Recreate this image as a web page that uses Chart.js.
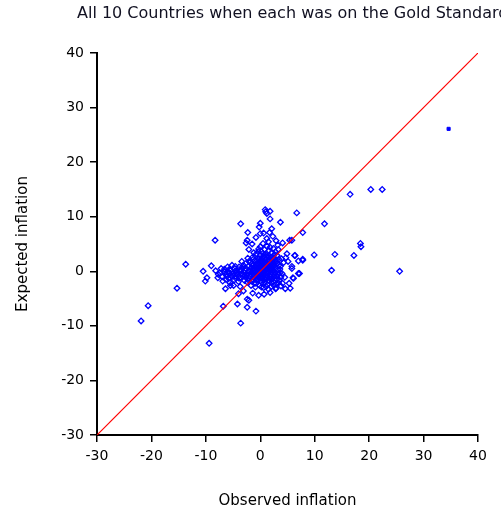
<!DOCTYPE html>
<html>
<head>
<meta charset="utf-8">
<script src="https://cdn.jsdelivr.net/npm/chart.js@4.4.1/dist/chart.umd.min.js"></script>
<style>
  body { margin: 0; background: #fff; }
  canvas { display: block; }
</style>
</head>
<body>
<canvas id="chart" width="501" height="512"></canvas>
<script>
// observed vs expected inflation as [observed, expected]
const core = [
  [-1.8,-0.5],[-1.5,0.3],[-1.2,-1.1],[-0.9,0.8],[-0.6,-0.2],[-0.3,1.2],[0.0,0.1],[0.2,-0.8],[0.5,0.6],[0.8,1.5],
  [1.1,-0.3],[1.4,0.9],[1.7,2.1],[2.0,0.4],[2.3,1.2],[2.6,-0.6],[2.9,1.8],[-2.2,0.9],[-2.5,-0.7],[-2.8,0.2],
  [-1.0,1.9],[-0.5,2.4],[0.1,2.0],[0.6,2.8],[1.0,3.1],[1.5,2.6],[2.1,3.4],[2.5,2.5],[3.1,2.9],[3.4,1.1],
  [-1.6,-1.8],[-1.1,-2.2],[-0.4,-1.5],[0.3,-2.0],[0.9,-1.4],[1.3,-2.4],[1.9,-1.0],[2.4,-1.9],[3.0,-0.9],[3.5,-1.6],
  [-0.2,-0.4],[0.4,0.3],[0.7,-0.1],[1.2,0.5],[1.6,-0.7],[-0.8,-0.9],[-1.3,0.0],[-2.0,-1.3],[0.0,1.0],[0.9,0.2],
  [1.8,1.0],[2.2,-0.2],[2.7,0.7],[3.2,0.3],[3.7,0.9],[4.0,-0.4],[4.3,1.6],[3.9,2.3],[4.5,-1.1],[4.1,-2.2],
  [-3.0,-0.2],[-3.3,0.6],[-2.7,1.4],[-3.6,-1.1],[-2.4,-2.0],[-1.9,1.6],[-1.4,2.6],[-0.7,3.2],[0.2,3.6],[0.8,4.0],
  [1.6,3.8],[2.4,4.2],[1.2,4.6],[-0.3,4.1],[0.5,5.1],[2.8,3.6],[3.3,4.0],[-0.1,-2.6],[0.6,-3.0],[1.5,-3.3],
  [-0.9,-2.9],[2.0,-2.8],[-1.7,-2.6],[-2.9,-1.7],[-3.8,0.3],[-4.2,-0.6],[-4.6,0.9],[-3.4,1.8],[-2.3,2.4],[-1.2,3.4],
  [0.3,-1.2],[0.1,0.5],[-0.4,0.7],[1.0,1.2],[1.3,-0.9],[0.6,-0.5],[-0.1,-1.0],[1.9,0.1],[2.5,1.7],[0.4,1.7],
  [-0.6,1.4],[-1.1,0.5],[0.8,-2.0],[1.7,-1.8],[2.9,-2.3],[3.6,-0.3],[-0.7,-1.6],[1.1,2.2],[2.2,2.0],[0.0,2.9]
];
const coreDense = [
  [-2.9,-0.8],[-2.6,0.5],[-2.3,-0.3],[-2.1,0.1],[-1.9,-0.9],[-1.7,0.6],[-1.6,-0.2],[-1.4,1.0],[-1.3,-0.6],[-1.1,0.2],
  [-1.0,-1.4],[-0.9,0.0],[-0.8,1.1],[-0.7,-0.5],[-0.5,0.4],[-0.4,-1.0],[-0.3,0.0],[-0.2,0.8],[-0.1,-0.6],[0.1,1.4],
  [0.2,0.2],[0.3,-0.4],[0.4,1.0],[0.5,-1.1],[0.6,0.0],[0.7,0.9],[0.8,-0.7],[0.9,1.8],[1.0,0.5],[1.1,-1.2],
  [1.2,1.4],[1.3,0.1],[1.4,-0.4],[1.5,1.9],[1.6,0.6],[1.7,-1.3],[1.8,0.3],[1.9,1.5],[2.0,-0.6],[2.1,0.8],
  [2.2,-1.4],[2.3,2.3],[2.4,0.1],[2.5,-1.0],[2.6,1.0],[2.7,-0.2],[2.8,2.1],[2.9,0.5],[3.0,-1.5],[3.1,1.5],
  [3.3,-0.5],[3.4,2.2],[3.6,0.4],[3.8,-1.0],[-2.0,1.9],[-1.5,1.5],[-0.6,2.0],[0.3,2.4],[1.3,2.8],[1.9,2.6],
  [-0.8,-2.2],[0.0,-1.8],[0.6,-1.6],[1.4,-1.7],[2.1,-2.1],[-1.4,-1.5],[-2.2,-1.6],[-3.2,-0.6],[-3.5,0.2],[-4.0,-0.9],
  [-4.5,-0.3],[-5.3,-0.9],[-5.7,0.4],[-6.1,-0.9],[-6.5,-0.1],[-4.7,0.5],[-3.9,0.8],[-3.1,1.1],[-2.6,-1.2],[0.5,3.3],
  [1.8,4.4],[2.6,3.1],[-0.4,3.6],[1.1,-2.8],[0.2,-2.9],[2.5,-2.6],[3.3,-2.1],[-0.2,2.3],[0.9,2.5],[-1.3,2.2]
];
const leftLobe = [
  [-5.0,-0.8],[-5.4,0.2],[-5.8,-1.3],[-6.2,-0.5],[-6.6,0.4],[-7.0,-1.0],[-7.4,-0.3],[-7.8,-1.2],[-4.8,-1.6],[-4.4,0.1],
  [-5.2,1.1],[-6.0,0.8],[-6.9,-1.8],[-5.6,-2.1],[-4.9,-2.6],[-4.0,-1.9],[-3.7,-2.8],[-6.4,-3.2],[-5.5,-2.6],[-4.3,-0.4],
  [-7.7,-0.6],[-8.2,0.1],[-6.7,0.0],[-5.9,-0.1],[-5.1,-0.4],[-4.6,-1.2],[-3.9,-1.3],[-3.5,-0.5],[-6.3,-1.5],[-7.2,0.5]
];
const upper = [
  [-2.4,5.7],[-2.1,4.0],[1.2,6.0],[1.5,5.4],[0.0,4.5],[3.2,4.8],[-2.6,5.2],[0.9,11.3],[1.2,10.6],[1.8,11.0],
  [1.0,10.9],[1.8,9.6],[0.0,8.8],[6.7,10.7],[3.7,9.0],[2.1,7.8],[-3.6,8.7],[-2.3,7.1],[5.4,5.7],[5.8,5.7],
  [7.8,7.1],[2.3,6.4],[0.6,7.0],[-0.8,6.2],[1.7,7.1],[4.1,5.2],[-1.5,5.0],[2.9,5.6],[-0.2,8.1],[0.0,6.9]
];
const lower = [
  [-4.0,-4.1],[-2.1,-5.3],[-0.3,-4.4],[2.8,-3.2],[4.6,-3.2],[5.5,-3.1],[-6.8,-6.4],[-4.2,-6.0],[-3.6,-9.5],
  [-2.4,-5.1],[-2.4,-6.6],[-0.8,-7.3],[2.9,-3.1],[-1.4,-4.0],[0.7,-4.2],[1.8,-3.9],[-3.1,-3.6],[3.8,-2.7]
];
const rightSide = [
  [6.4,2.9],[7.8,2.0],[5.8,0.5],[7.0,-0.4],[6.1,-1.3],[5.8,0.9],[6.0,-1.2],[7.0,1.9],[7.2,-0.4],[6.3,2.9],
  [7.8,2.2],[9.9,3.0],[13.7,3.1],[17.2,2.9],[13.1,0.2],[5.1,1.8],[4.9,3.2],[5.3,-2.2],[4.7,2.5]
];
const farOut = [
  [-21.9,-9.1],[-20.6,-6.3],[-15.3,-3.1],[-13.7,1.3],[-9.4,-13.2],[-8.3,5.7],[-10.5,0.0],[-9.8,-1.2],[-10.1,-1.8],[-9.0,1.0],
  [11.8,8.7],[16.5,14.1],[18.4,5.1],[18.5,4.5],[20.3,15.0],[22.4,15.0],[25.6,0.0]
];
const solidPoint = [[34.6,26.1]];
// 45 degree line, observed = expected
const lineX = [-30, 40];
const lineY = [-30, 40];
const xTicks = [-30, -20, -10, 0, 10, 20, 30, 40];
const yTicks = [-30, -20, -10, 0, 10, 20, 30, 40];

const chartTitle = 'All 10 Countries when each was on the Gold Standard';

const toXY = arr => arr.map(p => ({ x: p[0], y: p[1] }));
const hollow = toXY([].concat(core, coreDense, leftLobe, upper, lower, rightSide, farOut));

// title drawn over the plot, starting where the reference starts
const titlePlugin = {
  id: 'topTitle',
  afterDraw(chart) {
    const ctx = chart.ctx;
    ctx.save();
    ctx.font = '16px "DejaVu Sans"';
    ctx.fillStyle = '#111122';
    ctx.textAlign = 'left';
    ctx.textBaseline = 'middle';
    ctx.fillText(chartTitle, 77, 14);
    ctx.restore();
  }
};

function axis(ticksList, titleText, titlePad, fit) {
  return {
    type: 'linear',
    min: ticksList[0],
    max: ticksList[ticksList.length - 1],
    afterBuildTicks: s => { s.ticks = ticksList.map(v => ({ value: v })); },
    afterFit: fit,
    ticks: {
      color: '#000',
      font: { family: 'DejaVu Sans', size: 14 },
      padding: 6,
      autoSkip: false,
      maxRotation: 0
    },
    grid: {
      drawOnChartArea: false,
      drawTicks: true,
      tickLength: 7,
      color: '#000',
      lineWidth: 1.5
    },
    border: { display: true, color: '#000', width: 2 },
    title: {
      display: true,
      text: titleText,
      color: '#000',
      font: { family: 'DejaVu Sans', size: 15 },
      padding: titlePad
    }
  };
}

new Chart(document.getElementById('chart'), {
  type: 'scatter',
  data: {
    datasets: [
      {
        data: lineX.map((x, i) => ({ x: x, y: lineY[i] })),
        showLine: true,
        borderColor: '#ff0000',
        borderWidth: 1.2,
        pointRadius: 0,
        order: 0
      },
      {
        data: hollow,
        pointStyle: 'rectRot',
        pointRadius: 2.8,
        borderColor: '#0000ff',
        backgroundColor: 'rgba(0,0,255,0)',
        borderWidth: 1.3,
        order: 1
      },
      {
        data: toXY(solidPoint),
        pointStyle: 'rect',
        pointRadius: 2.2,
        borderColor: '#0000ff',
        backgroundColor: '#0000ff',
        borderWidth: 1,
        order: 2
      }
    ]
  },
  options: {
    responsive: false,
    animation: false,
    layout: { padding: { top: 53, right: 23, left: 0, bottom: 0 } },
    plugins: {
      legend: { display: false },
      tooltip: { enabled: false }
    },
    scales: {
      x: axis(xTicks, 'Observed inflation', { top: 0, bottom: 2 }, s => { s.height = 77; }),
      y: axis(yTicks, 'Expected inflation', { top: 14, bottom: 0 }, s => { s.width = 97; })
    }
  },
  plugins: [titlePlugin]
});
</script>
</body>
</html>
